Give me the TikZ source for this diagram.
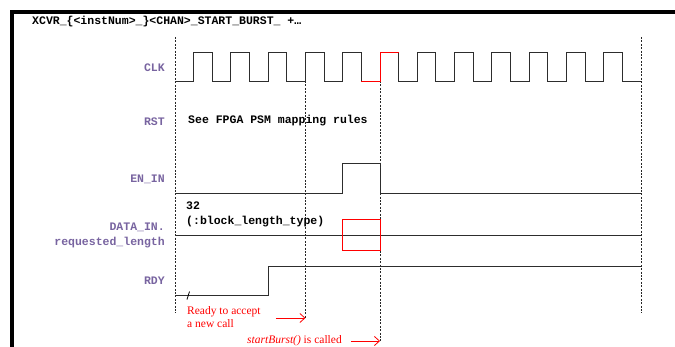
\documentclass[tikz,border=0pt]{standalone}
\usepackage{fontspec}
\setmainfont{Liberation Serif}
\setmonofont{Liberation Mono}
\usetikzlibrary{arrows.meta, positioning, calc}
\definecolor{sigpurple}{RGB}{120, 100, 160}
\definecolor{wavegray}{RGB}{45, 45, 45}
\newcommand{\halfper}{18.64}

\begin{document}
\begin{tikzpicture}[x=1pt, y=-1pt,
    sig/.style={draw=wavegray, line width=1pt},
    hot/.style={draw=red, line width=1pt},
    guide/.style={draw=black!85, line width=0.8pt, dash pattern=on 2pt off 1.4pt},
    lbl/.style={anchor=east, inner sep=0pt, align=right, text=sigpurple,
                font=\fontsize{11.5}{15.3}\ttfamily\bfseries},
    val/.style={anchor=west, inner sep=0pt, align=left,
                font=\fontsize{11.5}{15}\ttfamily\bfseries},
    note/.style={anchor=west, inner sep=0pt, align=left, text=red,
                 font=\fontsize{11.5}{12.6}\selectfont},
    marker/.style={-{Straight Barb[length=5pt,width=9pt]}, red, line width=0.8pt}
]
\useasboundingbox (0,0) rectangle (675,346);

%% ── FRAME ───────────────────────────────────────────────────────────────────
\draw[line width=3.5pt] (12,360) -- (12,12) -- (690,12);
\node[val, font=\fontsize{11.5}{13}\ttfamily\bfseries] (title) at (32,22)
     {XCVR\_\{<instNum>\_\}<CHAN>\_START\_BURST\_ +…};

%% ── SIGNAL NAMES ────────────────────────────────────────────────────────────
\node[lbl] (lblclk)  at (165, 67.5) {CLK};
\node[lbl] (lblrst)  at (165,121.5) {RST};
\node[lbl] (lblen)   at (165,179)   {EN\_IN};
\node[lbl] (lbldata) at (165,235.5) {DATA\_IN.\\requested\_length};
\node[lbl] (lblrdy)  at (165,281)   {RDY};

%% ── TIME GUIDES ─────────────────────────────────────────────────────────────
\coordinate (t3) at ({175+7*\halfper},318);
\coordinate (t5) at ({175+11*\halfper},341);
\draw[guide] (175,37) -- (175,313);
\draw[guide] (641,37) -- (641,313);
\draw[guide] ({175+7*\halfper},81) -- (t3);
\draw[guide] ({175+11*\halfper},81) -- (t5);

%% ── WAVEFORMS ───────────────────────────────────────────────────────────────
% CLK
\draw[sig] (175,81) foreach \i in {0,...,11} {
    -- ++(\halfper,0) -- ++(0,-29) -- ++(\halfper,0) -- ++(0,29) } -- ++(\halfper,0);
\draw[hot] ({175+10*\halfper},81) -- ++(\halfper,0) -- ++(0,-29) -- ++(\halfper,0);

% RST
\node[val] (rstnote) at (188,121) {See FPGA PSM mapping rules};

% EN_IN
\draw[sig] (175,193) -- ({175+9*\halfper},193) -- ++(0,-30)
     -- ({175+11*\halfper},163) -- ++(0,30) -- (641,193);

% DATA_IN
\node[val] (datanote) at (186,214.5) {32\\(:block\_length\_type)};
\draw[sig] (175,235) -- (641,235);
\draw[hot] ({175+9*\halfper},219) rectangle ({175+11*\halfper},250);

% RDY
\draw[sig] (175,295) -- ({175+5*\halfper},295) -- ++(0,-29) -- (641,266);
\draw[line width=0.8pt] (187,299.5) -- (189.5,291.5);

%% ── NOTES ───────────────────────────────────────────────────────────────────
\node[note] (readytxt) at (187,317) {Ready to accept\\a new call};
\node[note] (calltxt)  at (247,341) {\textit{startBurst()} is called};
\draw[marker] ([xshift=15pt]readytxt.east |- t3) -- (t3);
\draw[marker] ([xshift=9pt]calltxt.east |- t5) -- (t5);

\end{tikzpicture}
\end{document}
